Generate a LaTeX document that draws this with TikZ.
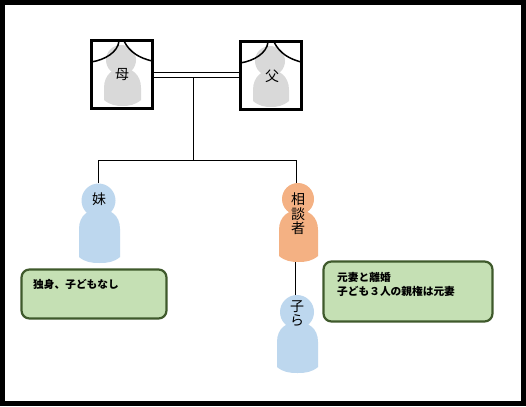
\documentclass[tikz,border=0pt]{standalone}
\usepackage{fontspec}
\setmainfont{Noto Sans CJK JP}
\usetikzlibrary{positioning}

\definecolor{graybody}{HTML}{D9D9D9}
\definecolor{bluebody}{HTML}{BDD7EE}
\definecolor{orangebody}{HTML}{F4B183}
\definecolor{notefill}{HTML}{C5E0B4}
\definecolor{noteline}{HTML}{3F5A2C}

\tikzset{
  head/.style={circle, fill=#1, inner sep=0pt},
  namelabel/.style={inner sep=0pt, align=center, font=\fontsize{14}{14.5}\selectfont},
  parentbox/.style={draw, line width=3pt, minimum width=61pt, minimum height=68pt, inner sep=0pt},
  note/.style={draw=noteline, fill=notefill, line width=2.2pt, rounded corners=8pt, inner sep=0pt},
  notetext/.style={inner sep=0pt, anchor=west, align=left, font=\fontsize{10.7}{14}\bfseries\selectfont},
  link/.style={line width=1pt}
}

% arch-topped body: left, right, top, bottom
\newcommand{\personbody}[5]{%
  \fill[#1] (#2,#5-6) -- (#2,#4+20)
    .. controls (#2,#4+6) and (#2+10,#4) .. ({(#2+#3)/2},#4)
    .. controls (#3-10,#4) and (#3,#4+6) .. (#3,#4+20)
    -- (#3,#5-6)
    .. controls (#3-6,#5-1) and (#3-12,#5) .. ({(#2+#3)/2},#5)
    .. controls (#2+12,#5) and (#2+6,#5-1) .. (#2,#5-6) -- cycle;}

\begin{document}
\begin{tikzpicture}[x=1pt, y=-1pt]

  \useasboundingbox (0,0) rectangle (526,406);
  \fill[black] (0,0) rectangle (526,406);
  \fill[white] (5,5) rectangle (521,401);

  % mother
  \personbody{graybody}{104}{141}{68}{106}
  \node[head=graybody, minimum size=30pt] (motherhead) at (121,60) {};
  \node[namelabel] (mothername) at (122,75) {母};
  \draw[line width=1.5pt] (119,41) .. controls (118,52) and (105,60) .. (91,62);
  \draw[line width=1.5pt] (124,41) .. controls (130,53) and (140,58) .. (152,61);
  \node[parentbox] (mother) at (121.5,75) {};

  % father
  \personbody{graybody}{253}{289}{70}{107}
  \node[head=graybody, minimum size=30pt] (fatherhead) at (270,61) {};
  \node[namelabel] (fathername) at (272,76) {父};
  \draw[line width=1.5pt] (268,42) .. controls (267,53) and (254,61) .. (240,63);
  \draw[line width=1.5pt] (274,42) .. controls (280,54) and (290,59) .. (301,62);
  \node[parentbox] (father) at (270.5,76) {};

  % sister
  \personbody{bluebody}{79}{120}{209}{263}
  \node[head=bluebody, minimum size=34pt] (sister) at (98.5,200.5) {};
  \node[namelabel] (sistername) at (99,199) {妹};

  % client
  \personbody{orangebody}{279}{318}{210}{262}
  \node[head=orangebody, minimum size=32pt] (client) at (298,199) {};
  \node[namelabel] (clientname) at (298,214) {相\\談\\者};

  % children
  \personbody{bluebody}{277}{318}{322}{373}
  \node[head=bluebody, minimum size=34pt] (children) at (297,312) {};
  \node[namelabel] (childrenname) at (297,313.5) {子\\ら};

  % notes
  \node[note, minimum width=145pt, minimum height=49pt] (sisternote) at (94,294) {};
  \node[notetext] (sistertext) at (33,284) {独身、子どもなし};
  \node[note, minimum width=169pt, minimum height=60pt] (clientnote) at (408,291.5) {};
  \node[notetext] (clienttext) at (337,284) {元妻と離婚\\子ども３人の親権は元妻};

  % family lines
  \coordinate (couple) at (193.5,77.5);
  \coordinate (rail) at (193.5,160.5);
  \coordinate (clientdrop) at (296.5,183);
  \coordinate (clientfoot) at (295.5,262);
  \draw[link] (mother.east |- 0,72.5) -- (father.west |- 0,72.5);
  \draw[link] (mother.east |- 0,77.5) -- (father.west |- 0,77.5);
  \draw[link] (couple) -- (rail);
  \draw[link] (sister.north) -- (sister.north |- rail) -- (clientdrop |- rail) -- (clientdrop);
  \draw[link] (clientfoot) -- (clientfoot |- children.north);

\end{tikzpicture}
\end{document}
